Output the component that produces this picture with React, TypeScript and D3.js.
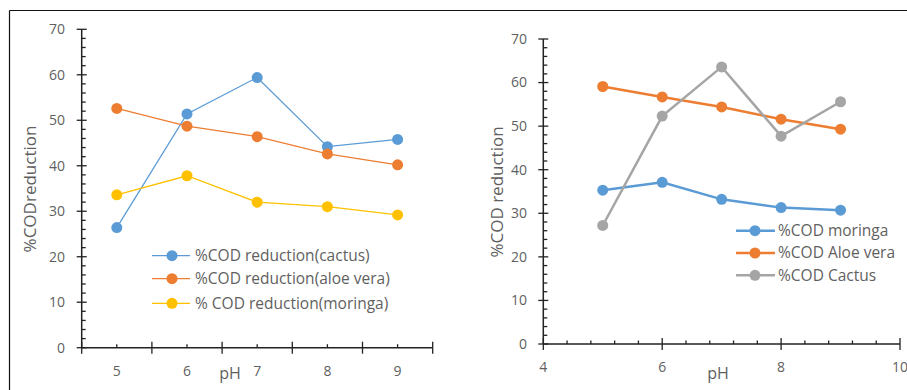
import React from "react";
import * as d3 from "d3";

const phCategories = ["5", "6", "7", "8", "9"];
const leftCactus = [26.4, 51.4, 59.4, 44.2, 45.8];
const leftAloe = [52.6, 48.7, 46.4, 42.6, 40.2];
const leftMoringa = [33.6, 37.8, 32.0, 31.0, 29.2];

const phValues = [5, 6, 7, 8, 9];
const rightMoringa = [35.3, 37.1, 33.2, 31.3, 30.7];
const rightAloe = [59.1, 56.7, 54.4, 51.6, 49.3];
const rightCactus = [27.2, 52.3, 63.6, 47.7, 55.6];

const yTicks = [0, 10, 20, 30, 40, 50, 60, 70];
const xTicksRight = [4, 6, 8, 10];

const leftLegend = ["%COD reduction(cactus)", "%COD reduction(aloe vera)", "% COD reduction(moringa)"];
const rightLegend = ["%COD moringa", "%COD Aloe vera", "%COD Cactus"];

const BLUE = "#5B9BD5";
const ORANGE = "#ED7D31";
const YELLOW = "#FFC000";
const GRAY = "#A5A5A5";
const TXT = "#5f5f5f";
const FONT = "'Open Sans', sans-serif";
const TICK_FS = 14;
const LEG_FS = 15.5;
const TITLE_FS = 17;

function LeftChart() {
  const x0 = 81.7, x1 = 432.7, yb = 347.7, yt = 29.3;
  const x = d3.scaleBand<string>().domain(phCategories).range([x0, x1]);
  const y = d3.scaleLinear().domain([0, 70]).range([yb, yt]);
  const cx = (c: string) => (x(c) as number) + x.bandwidth() / 2;
  const line = d3.line<number>().x((_, i) => cx(phCategories[i])).y((d) => y(d));
  const series = [
    { v: leftCactus, c: BLUE },
    { v: leftAloe, c: ORANGE },
    { v: leftMoringa, c: YELLOW },
  ];
  const minor = d3.range(0, 71, 2).filter((v) => v % 10 !== 0);
  const boundaries = phCategories.map((c) => x(c) as number).concat([x1]);
  return (
    <g>
      <line x1={x0} x2={x0} y1={yt} y2={yb} stroke="#222" strokeWidth={1.5} />
      {yTicks.map((t) => (
        <g key={t}>
          <line x1={x0 - 5} x2={x0 + 5} y1={y(t)} y2={y(t)} stroke="#222" strokeWidth={1.3} />
          <text x={65} y={y(t)} dy="0.35em" textAnchor="end" fontSize={TICK_FS} fill={TXT} fontFamily={FONT}>{t}</text>
        </g>
      ))}
      {minor.map((t) => (
        <line key={t} x1={x0} x2={x0 + 4} y1={y(t)} y2={y(t)} stroke="#222" strokeWidth={1.3} />
      ))}
      <line x1={x0} x2={x1} y1={yb} y2={yb} stroke="#222" strokeWidth={1.5} />
      {boundaries.map((b, i) => (
        <line key={i} x1={b} x2={b} y1={yb - 6} y2={yb + 6} stroke="#222" strokeWidth={1.3} />
      ))}
      {phCategories.map((c) => (
        <g key={c}>
          <line x1={cx(c)} x2={cx(c)} y1={yb - 3.5} y2={yb} stroke="#222" strokeWidth={1.3} />
          <text x={cx(c)} y={371} dy="0.35em" textAnchor="middle" fontSize={TICK_FS} fill={TXT} fontFamily={FONT}>{c}</text>
        </g>
      ))}
      <text x={230} y={373} dy="0.35em" textAnchor="middle" fontSize={16} fill={TXT} fontFamily={FONT}>pH</text>
      <text transform={`translate(30,189) rotate(-90)`} dy="0.35em" textAnchor="middle" fontSize={TITLE_FS} fill={TXT} fontFamily={FONT}>%CODreduction</text>
      {series.map((s, k) => (
        <g key={k}>
          <path d={line(s.v) as string} fill="none" stroke={s.c} strokeWidth={1.3} />
          {s.v.map((v, i) => (
            <circle key={i} cx={cx(phCategories[i])} cy={y(v)} r={5.5} fill={s.c} />
          ))}
        </g>
      ))}
      {leftLegend.map((t, i) => {
        const ly = [255.7, 278.7, 303.3][i];
        return (
          <g key={t}>
            <line x1={152} x2={190} y1={ly} y2={ly} stroke={series[i].c} strokeWidth={1.3} />
            <circle cx={172} cy={ly} r={5.5} fill={series[i].c} />
            <text x={195} y={ly} dy="0.35em" fontSize={LEG_FS} fill={TXT} fontFamily={FONT}>{t}</text>
          </g>
        );
      })}
    </g>
  );
}

function RightChart() {
  const x0 = 543.3, x1 = 900, yb = 344, yt = 39;
  const x = d3.scaleLinear().domain([4, 10]).range([x0, x1]);
  const y = d3.scaleLinear().domain([0, 70]).range([yb, yt]);
  const line = d3.line<number>().x((_, i) => x(phValues[i])).y((d) => y(d));
  const series = [
    { v: rightMoringa, c: BLUE },
    { v: rightAloe, c: ORANGE },
    { v: rightCactus, c: GRAY },
  ];
  const minorY = d3.range(0, 71, 2).filter((v) => v % 10 !== 0);
  const minorX = d3.range(0, 16).map((i) => 4 + i * 0.4).filter((v) => Math.abs(v - Math.round(v / 2) * 2) > 0.01);
  return (
    <g>
      <line x1={x0} x2={x0} y1={yt} y2={yb} stroke="#222" strokeWidth={1.5} />
      {yTicks.map((t) => (
        <g key={t}>
          <line x1={x0 - 5} x2={x0 + 5} y1={y(t)} y2={y(t)} stroke="#222" strokeWidth={1.3} />
          <text x={527} y={y(t)} dy="0.35em" textAnchor="end" fontSize={TICK_FS} fill={TXT} fontFamily={FONT}>{t}</text>
        </g>
      ))}
      {minorY.map((t) => (
        <line key={t} x1={x0} x2={x0 + 4} y1={y(t)} y2={y(t)} stroke="#222" strokeWidth={1.3} />
      ))}
      <line x1={x0} x2={x1} y1={yb} y2={yb} stroke="#222" strokeWidth={1.5} />
      {xTicksRight.map((t) => (
        <g key={t}>
          <line x1={x(t)} x2={x(t)} y1={yb - 6} y2={yb + 6} stroke="#222" strokeWidth={1.3} />
          <text x={x(t)} y={367} dy="0.35em" textAnchor="middle" fontSize={TICK_FS} fill={TXT} fontFamily={FONT}>{t}</text>
        </g>
      ))}
      {minorX.map((t, i) => (
        <line key={i} x1={x(t)} x2={x(t)} y1={yb - 3.5} y2={yb} stroke="#222" strokeWidth={1.3} />
      ))}
      <text x={718} y={373} dy="0.35em" textAnchor="middle" fontSize={16} fill={TXT} fontFamily={FONT}>pH</text>
      <text transform={`translate(497,192) rotate(-90)`} dy="0.35em" textAnchor="middle" fontSize={TITLE_FS} fill={TXT} fontFamily={FONT}>%COD reduction</text>
      {series.map((s, k) => (
        <g key={k}>
          <path d={line(s.v) as string} fill="none" stroke={s.c} strokeWidth={2.5} />
          {s.v.map((v, i) => (
            <circle key={i} cx={x(phValues[i])} cy={y(v)} r={5.5} fill={s.c} />
          ))}
        </g>
      ))}
      {rightLegend.map((t, i) => {
        const ly = [230.7, 253, 275.3][i];
        return (
          <g key={t}>
            <line x1={736} x2={775} y1={ly} y2={ly} stroke={series[i].c} strokeWidth={2.5} />
            <circle cx={755} cy={ly} r={5.5} fill={series[i].c} />
            <text x={778} y={ly} dy="0.35em" fontSize={LEG_FS} fill={TXT} fontFamily={FONT}>{t}</text>
          </g>
        );
      })}
    </g>
  );
}

export default function App() {
  return (
    <svg width={907} height={390} style={{ position: "absolute", left: 0, top: 0, background: "#fff" }}>
      <rect x={0} y={0} width={907} height={390} fill="#fff" />
      <line x1={9.5} x2={907} y1={10.5} y2={10.5} stroke="#111" strokeWidth={1.2} />
      <line x1={9.5} x2={9.5} y1={10.5} y2={390} stroke="#111" strokeWidth={1.2} />
      <LeftChart />
      <RightChart />
    </svg>
  );
}
